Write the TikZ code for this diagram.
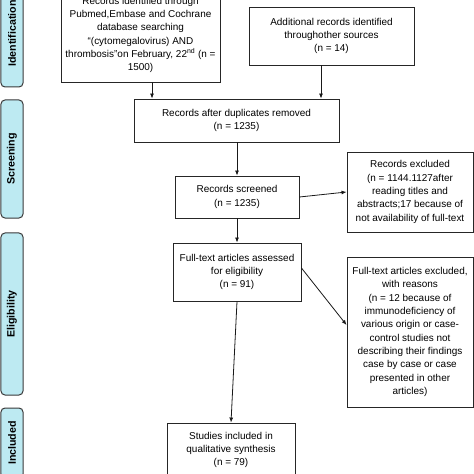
\documentclass[tikz,border=0pt]{standalone}
\usepackage{fontspec}
\setmainfont{Liberation Sans}
\usetikzlibrary{arrows.meta}
\definecolor{stagefill}{HTML}{BDEAF2}
\definecolor{stageline}{HTML}{3A3A3A}
\begin{document}
\begin{tikzpicture}[x=1bp,y=-1bp,
  box/.style={draw=black!85,line width=0.9bp,fill=white,align=center,inner sep=0pt,
    font=\fontsize{10}{13.4}\selectfont},
  stage/.style={draw=stageline,line width=1bp,fill=stagefill,rounded corners=4bp,rotate=90,
    minimum height=22bp,inner sep=0pt,font=\fontsize{10.7}{12}\selectfont\bfseries},
  arr/.style={-{Latex[length=5bp,width=4bp]},line width=0.8bp,draw=black!90}]
\useasboundingbox (0,0) rectangle (474,474);
\fill[white] (0,0) rectangle (474,474);
% stage labels
\node[stage,minimum width=107bp] (s1) at (12,33.5) {Identification};
\node[stage,minimum width=118bp] (s2) at (12,159) {Screening};
\node[stage,minimum width=162bp] (s3) at (12,314) {Eligibility};
\node[stage,minimum width=70bp] (s4) at (12,443) {Included};
% boxes
\node[box,minimum width=159bp,minimum height=94bp] (b1) at (140.5,35)
  {Records identified through\\Pubmed,Embase and Cochrane\\database searching\\“(cytomegalovirus) AND\\thrombosis”on February, 22\textsuperscript{nd} (n =\\1500)};
\node[box,minimum width=165bp,minimum height=58bp] (b2) at (331.5,36)
  {Additional records identified\\throughother sources\\(n = 14)};
\node[box,minimum width=205bp,minimum height=43bp] (b3) at (236.5,120.5)
  {Records after duplicates removed\\(n = 1235)};
\node[box,minimum width=124bp,minimum height=42bp] (b4) at (237,197)
  {Records screened\\(n = 1235)};
\node[box,minimum width=126bp,minimum height=80bp] (b5) at (410,192)
  {Records excluded\\(n = 1144.1127after\\reading titles and\\abstracts;17 because of\\not availability of full-text};
\node[box,minimum width=128bp,minimum height=58bp] (b6) at (237,272)
  {Full-text articles assessed\\for eligibility\\(n = 91)};
\node[box,minimum width=126bp,minimum height=150bp] (b7) at (410,332)
  {Full-text articles excluded,\\with reasons\\(n = 12 because of\\immunodeficiency of\\various origin or case-\\control studies not\\describing their findings\\case by case or case\\presented in other\\articles)};
\node[box,minimum width=128bp,minimum height=54bp] (b8) at (231,450)
  {Studies included in\\qualitative synthesis\\(n = 79)};
% connectors
\draw[arr] ([xshift=11.5bp]b1.south) -- ([xshift=11.5bp]b1.south |- b3.north);
\draw[arr] ([xshift=-10.5bp]b2.south) -- ([xshift=-10.5bp]b2.south |- b3.north);
\draw[arr] (b3.south -| b4.north) -- (b4.north);
\draw[arr] (b4.east) -- (b5.west);
\draw[arr] (b4.south) -- (b6.north);
\draw[arr] ([yshift=4bp]b6.east) -- ([yshift=7bp]b7.west);
\draw[arr] (b6.south) -- (b8.north);
\end{tikzpicture}
\end{document}
